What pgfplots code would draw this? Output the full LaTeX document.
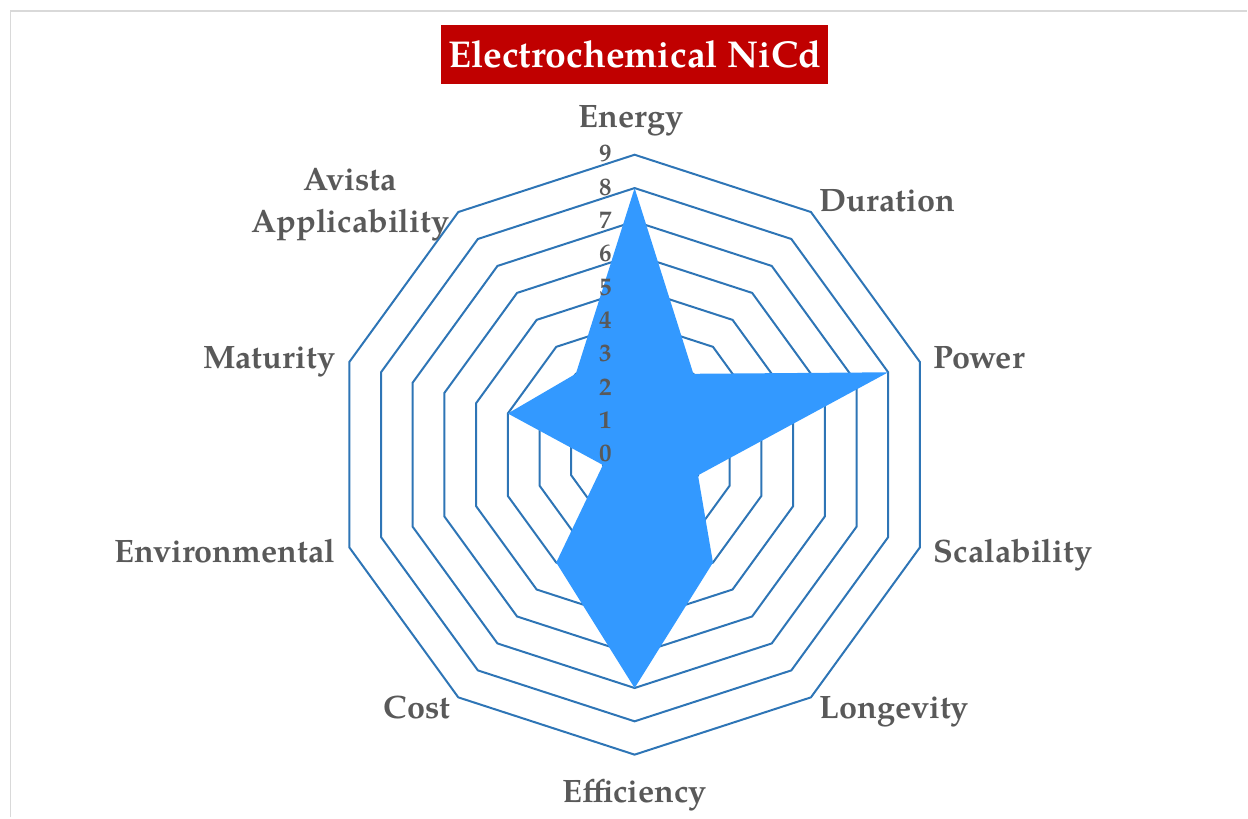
\documentclass[border=0pt]{standalone}
\usepackage{pgfplots}
\pgfplotsset{compat=1.18}
\usepgfplotslibrary{polar}
\usepackage{fontspec}
\setmainfont{texgyrepagella}[Extension=.otf, UprightFont=*-regular, BoldFont=*-bold, ItalicFont=*-italic, BoldItalicFont=*-bolditalic]

\definecolor{gridblue}{HTML}{2E75B6}
\definecolor{fillblue}{HTML}{3399FF}
\definecolor{labelgray}{HTML}{595959}
\definecolor{titlered}{HTML}{C00000}
\definecolor{framegray}{HTML}{D9D9D9}

\tikzset{cat/.style={text=labelgray, font=\fontsize{16.2bp}{21bp}\selectfont\bfseries, inner sep=0pt},
         one/.style={text height=0.7em, text depth=0pt}}

\begin{document}
\begin{tikzpicture}
\begin{axis}[
    scale only axis, width=624bp, height=409bp,
    xmin=-19.04, xmax=18.38, ymin=-10.885, ymax=13.643,
    hide axis, clip=false, no markers,
]
% frame of the chart area
\draw[framegray, line width=0.8bp] (axis cs:-18.72,-10.885) -- (axis cs:-18.72,13.32) -- (axis cs:18.38,13.32);
\draw[draw=none] (rel axis cs:0,0) rectangle (rel axis cs:1,1);

% decagon rings 1..9
\pgfplotsinvokeforeach{1,...,9}{
\addplot[gridblue, line width=1bp, data cs=polar] coordinates {(90,#1) (54,#1) (18,#1) (-18,#1) (-54,#1) (-90,#1) (-126,#1) (-162,#1) (162,#1) (126,#1)} -- cycle;
}

% NiCd scores
\addplot[fill=fillblue, draw=none, data cs=polar] coordinates {
(90,8) (54,3) (18,8) (-18,2) (-54,4) (-90,7) (-126,4) (-162,1) (162,4) (126,3)} -- cycle;

% radial tick labels
\pgfplotsinvokeforeach{0,...,9}{
\node[anchor=east, text=labelgray, font=\fontsize{12.5bp}{14bp}\selectfont\bfseries, inner sep=0pt, text height=0.7em, text depth=0pt] at (axis cs:-0.68,#1) {#1};
}

% category labels
\node[cat, one, anchor=center] at (axis cs:-0.1,10.02) {Energy};
\node[cat, one, anchor=west] at (axis cs:5.55,7.5) {Duration};
\node[cat, one, anchor=west] at (axis cs:8.97,2.79) {Power};
\node[cat, one, anchor=west] at (axis cs:8.97,-3.03) {Scalability};
\node[cat, one, anchor=west] at (axis cs:5.55,-7.71) {Longevity};
\node[cat, one, anchor=center] at (axis cs:0,-10.23) {Efficiency};
\node[cat, one, anchor=east] at (axis cs:-5.52,-7.71) {Cost};
\node[cat, one, anchor=east] at (axis cs:-8.97,-3.03) {Environmental};
\node[cat, one, anchor=east] at (axis cs:-8.97,2.79) {Maturity};
\node[cat, anchor=east, align=center] at (axis cs:-5.55,7.5) {Avista\\Applicability};

% title
\node[fill=titlered, text=white, font=\fontsize{18.7bp}{22bp}\selectfont\bfseries,
      minimum width=194bp, minimum height=29.5bp, inner sep=3bp] at (axis cs:0,12.0) {Electrochemical NiCd};
\end{axis}
\end{tikzpicture}
\end{document}
